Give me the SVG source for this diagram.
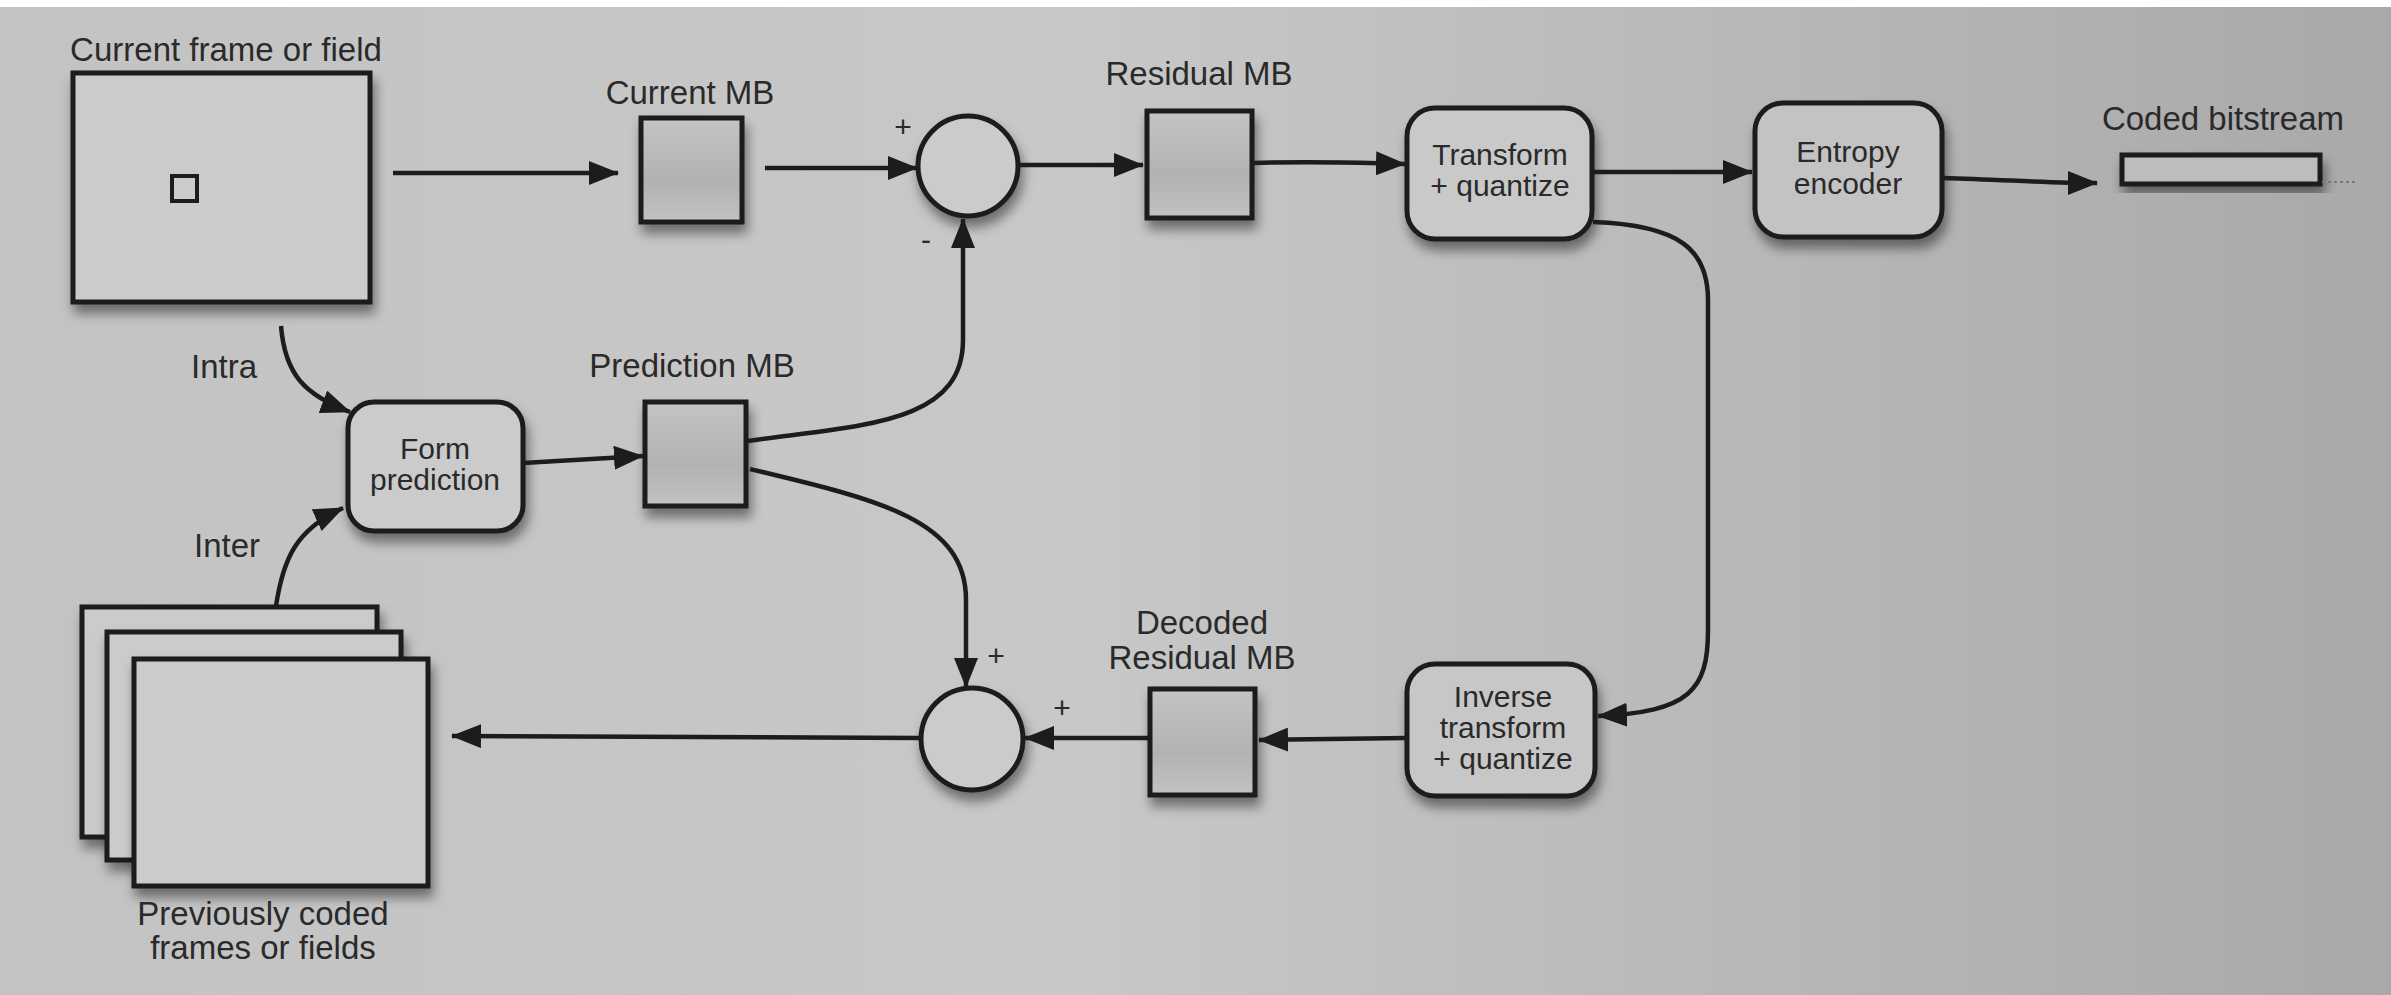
<svg xmlns="http://www.w3.org/2000/svg" width="2391" height="995" viewBox="0 0 2391 995">
<defs>
<linearGradient id="bg" x1="0" y1="0" x2="1" y2="0">
<stop offset="0" stop-color="#c3c3c3"/>
<stop offset="0.45" stop-color="#c8c8c8"/>
<stop offset="1" stop-color="#a9a9a9"/>
</linearGradient>
<linearGradient id="mb" x1="0" y1="0" x2="0" y2="1">
<stop offset="0" stop-color="#c4c4c4"/>
<stop offset="0.6" stop-color="#b2b2b2"/>
<stop offset="1" stop-color="#c2c2c2"/>
</linearGradient>
<filter id="sh" x="-20%" y="-20%" width="140%" height="150%">
<feDropShadow dx="3" dy="9" stdDeviation="6" flood-color="#000" flood-opacity="0.45"/>
</filter>
<marker id="ah" viewBox="0 0 30 24" refX="29" refY="12" markerWidth="30" markerHeight="24" markerUnits="userSpaceOnUse" orient="auto">
<path d="M0,0 L30,12 L0,24 Z" fill="#1c1c1c"/>
</marker>
<style>
.box{stroke:#1c1c1c;stroke-width:5;filter:url(#sh)}
.mb{fill:url(#mb)}
.plain{fill:#cbcbcb}
.lbl{font-family:"Liberation Sans",Arial,sans-serif;font-size:33px;fill:#2a2a2a;text-anchor:middle}
.in{font-family:"Liberation Sans",Arial,sans-serif;font-size:30px;fill:#2a2a2a;text-anchor:middle}
.sign{font-family:"Liberation Sans",Arial,sans-serif;font-size:30px;fill:#2a2a2a;text-anchor:middle}
.wire{fill:none;stroke:#1c1c1c;stroke-width:4.5;marker-end:url(#ah)}
</style>
</defs>
<rect x="0" y="0" width="2391" height="995" fill="url(#bg)"/>
<rect x="0" y="0" width="2391" height="7" fill="#ffffff"/>

<g id="current-frame">
<rect class="box plain" x="73" y="73" width="297" height="229"/>
<rect x="172" y="176" width="25" height="25" fill="none" stroke="#1c1c1c" stroke-width="4"/>
<text class="lbl" x="226" y="61">Current frame or field</text>
</g>
<g id="current-mb">
<rect class="box mb" x="641" y="118" width="101" height="104"/>
<text class="lbl" x="690" y="104">Current MB</text>
</g>
<g id="sum-subtract">
<circle class="box plain" cx="968" cy="166" r="50"/>
<text class="sign" x="903" y="137">+</text>
<text class="sign" x="926" y="250">-</text>
</g>
<g id="residual-mb">
<rect class="box mb" x="1147" y="111" width="105" height="107"/>
<text class="lbl" x="1199" y="85">Residual MB</text>
</g>
<g id="transform">
<rect class="box" fill="#c9c9c9" x="1407" y="108" width="185" height="131" rx="28"/>
<text class="in" x="1500" y="165">Transform</text>
<text class="in" x="1500" y="196">+ quantize</text>
</g>
<g id="entropy">
<rect class="box" fill="#c3c3c3" x="1755" y="103" width="187" height="134" rx="28"/>
<text class="in" x="1848" y="162">Entropy</text>
<text class="in" x="1848" y="194">encoder</text>
</g>
<g id="bitstream">
<rect class="box" fill="#bdbdbd" x="2122" y="155" width="198" height="29"/>
<line x1="2322" y1="182" x2="2356" y2="182" stroke="#777" stroke-width="2" stroke-dasharray="3 3"/>
<text class="lbl" x="2223" y="130">Coded bitstream</text>
</g>
<g id="form-prediction">
<rect class="box plain" x="348" y="402" width="175" height="129" rx="26"/>
<text class="in" x="435" y="459">Form</text>
<text class="in" x="435" y="490">prediction</text>
</g>
<g id="prediction-mb">
<rect class="box mb" x="645" y="402" width="101" height="104"/>
<text class="lbl" x="692" y="377">Prediction MB</text>
</g>
<g id="previous-frames">
<rect class="box plain" x="82" y="607" width="295" height="230"/>
<rect class="box plain" x="107" y="632" width="294" height="228"/>
<rect class="box plain" x="134" y="659" width="294" height="227"/>
<text class="lbl" x="263" y="925">Previously coded</text>
<text class="lbl" x="263" y="959">frames or fields</text>
</g>
<g id="sum-add">
<circle class="box plain" cx="972" cy="739" r="51"/>
<text class="sign" x="996" y="666">+</text>
<text class="sign" x="1062" y="718">+</text>
</g>
<g id="decoded-residual-mb">
<rect class="box mb" x="1150" y="689" width="105" height="106"/>
<text class="lbl" x="1202" y="634">Decoded</text>
<text class="lbl" x="1202" y="669">Residual MB</text>
</g>
<g id="inverse">
<rect class="box" fill="#c7c7c7" x="1407" y="664" width="188" height="132" rx="28"/>
<text class="in" x="1503" y="707">Inverse</text>
<text class="in" x="1503" y="738">transform</text>
<text class="in" x="1503" y="769">+ quantize</text>
</g>
<g id="labels">
<text class="lbl" x="224" y="378">Intra</text>
<text class="lbl" x="227" y="557">Inter</text>
</g>

<g id="connectors">
<path class="wire" d="M393 173 L618 173"/>
<path class="wire" d="M765 168 L917 168"/>
<path class="wire" d="M1019 165 L1143 165"/>
<path class="wire" d="M1252 163 C1320 161 1360 163 1405 164"/>
<path class="wire" d="M1592 172 L1752 172"/>
<path class="wire" d="M1943 178 C2010 180 2050 183 2097 183"/>
<path class="wire" d="M748 441 C860 425 963 425 963 340 L963 219"/>
<path class="wire" d="M750 469 C880 500 966 520 966 600 L966 687"/>
<path class="wire" d="M281 326 C285 375 305 395 350 412"/>
<path class="wire" d="M276 606 C283 560 295 530 343 508"/>
<path class="wire" d="M523 463 L643 456"/>
<path class="wire" d="M1593 222 C1680 225 1708 250 1708 300 L1708 630 C1708 690 1690 712 1598 716"/>
<path class="wire" d="M1407 738 L1259 740"/>
<path class="wire" d="M1150 738 L1025 738"/>
<path class="wire" d="M921 738 L452 736"/>
</g>
</svg>
